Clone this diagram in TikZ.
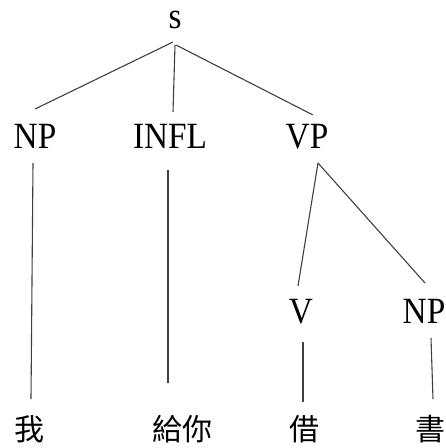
\documentclass[tikz,border=0pt]{standalone}
\usepackage{fontspec}
\setmainfont[FakeStretch=0.9]{Liberation Serif}
\newfontfamily\cjk{Noto Sans CJK TC}
\usetikzlibrary{calc}
\tikzset{
  lab/.style={inner sep=0pt, anchor=base, font=\fontsize{37}{42}\selectfont},
  leaf/.style={inner sep=0pt, anchor=center, font=\cjk\fontsize{30}{34}\selectfont},
  branch/.style={draw=black!75, line width=1.1pt}
}
\begin{document}
\begin{tikzpicture}[x=1pt,y=1pt]
\useasboundingbox (0,0) rectangle (446,-448);
\node[lab] (s) at (175,-28) {s};
\node[lab] (np) at (35,-148) {NP};
\node[lab] (infl) at (170,-148) {INFL};
\node[lab] (vp) at (307,-148) {VP};
\node[lab] (v) at (301,-323) {V};
\node[lab] (np2) at (424,-323) {NP};
\node[leaf] (wo) at (29,-429) {我};
\node[leaf] (geini) at (182,-429) {給你};
\node[leaf] (jie) at (304,-429) {借};
\node[leaf] (shu) at (430,-429) {書};
\draw[branch] ($(s.base)+(-2,-14)$) -- ($(np.base)+(0,39)$);
\draw[branch] ($(s.base)+(0,-17)$) -- ($(infl.base)+(3,36)$);
\draw[branch] ($(s.base)+(1,-17)$) -- ($(vp.base)+(6,33)$);
\draw[branch] ($(np.base)+(-2,-15)$) -- ($(wo.center)+(2,30)$);
\draw[branch] ($(infl.base)+(-2,-22)$) -- ($(geini.center)+(-14,46)$);
\draw[branch] ($(vp.base)+(11,-15)$) -- ($(v.base)+(-3,37)$);
\draw[branch] ($(vp.base)+(11,-15)$) -- ($(np2.base)+(1,40)$);
\draw[branch] ($(v.base)+(2,-19)$) -- ($(jie.center)+(-1,27)$);
\draw[branch] ($(np2.base)+(7,-15)$) -- ($(shu.center)+(3,30)$);
\end{tikzpicture}
\end{document}
